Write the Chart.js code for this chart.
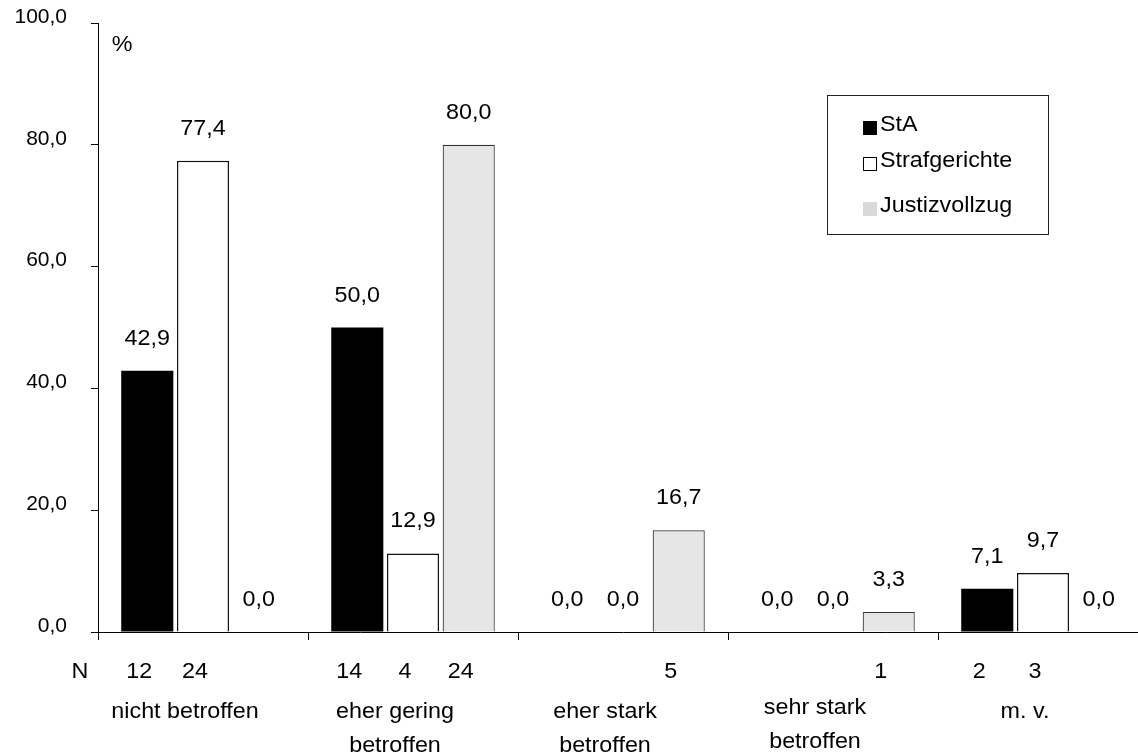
<!DOCTYPE html>
<html>
<head>
<meta charset="utf-8">
<script src="https://cdn.jsdelivr.net/npm/chart.js@4.4.1/dist/chart.umd.min.js"></script>
<style>
  html, body { margin: 0; padding: 0; background: #fff; overflow: hidden; }
  #wrap { width: 1138px; height: 756px; overflow: hidden; }
</style>
</head>
<body>
<div id="wrap"><canvas id="chart" width="1148" height="756"></canvas></div>
<script>
const categories = ["nicht betroffen", ["eher gering", "betroffen"], ["eher stark", "betroffen"], ["sehr stark", "betroffen"], "m. v."];
const seriesNames = ["StA", "Strafgerichte", "Justizvollzug"];
const staValues = [42.9, 50.0, 0.0, 0.0, 7.1];
const gerichteValues = [77.4, 12.9, 0.0, 0.0, 9.7];
const vollzugValues = [0.0, 80.0, 16.7, 3.3, 0.0];
const staN = [12, 14, null, null, 2];
const gerichteN = [24, 4, null, null, 3];
const vollzugN = [null, 24, 5, 1, null];
const yTicks = [0, 20, 40, 60, 80, 100];

const FAMILY = '"Liberation Sans", Arial, sans-serif';
const FONT = '22px ' + FAMILY;
const STRETCH = 1.06;

function fmt(v) {
    return v.toFixed(1).replace(".", ",");
}

// text is a bit wider than the font in the original picture
function drawText(ctx, text, x, y, align) {
    ctx.save();
    ctx.font = FONT;
    ctx.fillStyle = "#000";
    ctx.textBaseline = "alphabetic";
    ctx.textAlign = align || "center";
    ctx.translate(x, y);
    ctx.scale(STRETCH, 1);
    ctx.fillText(text, 0, 0);
    ctx.restore();
}

const labelsPlugin = {
    id: "labels",
    afterDatasetsDraw(chart) {
        const ctx = chart.ctx;
        const nRows = [staN, gerichteN, vollzugN];

        chart.data.datasets.forEach((ds, di) => {
            const meta = chart.getDatasetMeta(di);
            meta.data.forEach((bar, i) => {
                // value above the bar
                drawText(ctx, fmt(ds.data[i]), bar.x, bar.y - 26);
                // N row under the axis
                const n = nRows[di][i];
                if (n !== null) drawText(ctx, String(n), bar.x - 8, 678);
            });
        });
        drawText(ctx, "N", 80, 678);

        // category labels
        const xScale = chart.scales.x;
        categories.forEach((cat, i) => {
            const lines = Array.isArray(cat) ? cat : [cat];
            const cx = xScale.getPixelForValue(i) - 18;
            const lift = i === 3 ? 4 : 0;
            lines.forEach((line, k) => drawText(ctx, line, cx, 718 - lift + k * 34));
        });

        // unit label
        drawText(ctx, "%", 122, 51);

        // legend box
        ctx.save();
        ctx.strokeStyle = "#222";
        ctx.lineWidth = 1;
        ctx.strokeRect(827.5, 95.5, 221, 139);
        const rowY = [121, 157, 202];
        chart.data.datasets.forEach((ds, di) => {
            const y = rowY[di];
            if (di === 2) {
                ctx.fillStyle = "#d9d9d9";
                ctx.fillRect(863, y, 14, 14);
            } else {
                ctx.fillStyle = ds.backgroundColor;
                ctx.fillRect(863, y, 14, 14);
                ctx.strokeStyle = "#000";
                ctx.strokeRect(863.5, y + 0.5, 13, 13);
            }
            drawText(ctx, seriesNames[di], 880, y + 10, "left");
        });
        ctx.restore();
    }
};

new Chart(document.getElementById("chart"), {
    type: "bar",
    data: {
        labels: categories,
        datasets: [
            {
                label: seriesNames[0],
                data: staValues,
                backgroundColor: "#000000",
                borderColor: "#000000",
                borderWidth: 0
            },
            {
                label: seriesNames[1],
                data: gerichteValues,
                backgroundColor: "#ffffff",
                borderColor: "#111111",
                borderWidth: c => (c.raw > 0 ? 1.5 : 0)
            },
            {
                label: seriesNames[2],
                data: vollzugValues,
                backgroundColor: "#e6e6e6",
                borderColor: "#333333",
                borderWidth: c => (c.raw > 0 ? 1.2 : 0)
            }
        ]
    },
    options: {
        responsive: false,
        animation: false,
        categoryPercentage: 0.796,
        barPercentage: 0.935,
        layout: { padding: { left: 0, right: 0, top: 23, bottom: 0 } },
        plugins: {
            legend: { display: false },
            tooltip: { enabled: false }
        },
        scales: {
            x: {
                type: "category",
                offset: true,
                grid: { offset: true, drawOnChartArea: false, drawTicks: true, tickLength: 8, color: "#000" },
                border: { color: "#000", width: 1 },
                ticks: { display: false },
                afterFit: s => { s.height = 124; }
            },
            y: {
                min: 0,
                max: 100,
                afterBuildTicks: s => { s.ticks = yTicks.map(v => ({ value: v })); },
                grid: { drawOnChartArea: false, drawTicks: true, tickLength: 7, color: "#000" },
                border: { color: "#000", width: 1 },
                ticks: {
                    color: "#000",
                    font: { family: FAMILY, size: 21 },
                    padding: 24,
                    labelOffset: -6,
                    callback: v => fmt(v)
                },
                afterFit: s => {
                    s.width = 98;
                    // the big tick padding should not push the plot down
                    s.paddingTop = 0;
                    s.paddingBottom = 0;
                }
            }
        }
    },
    plugins: [labelsPlugin]
});
</script>
</body>
</html>
